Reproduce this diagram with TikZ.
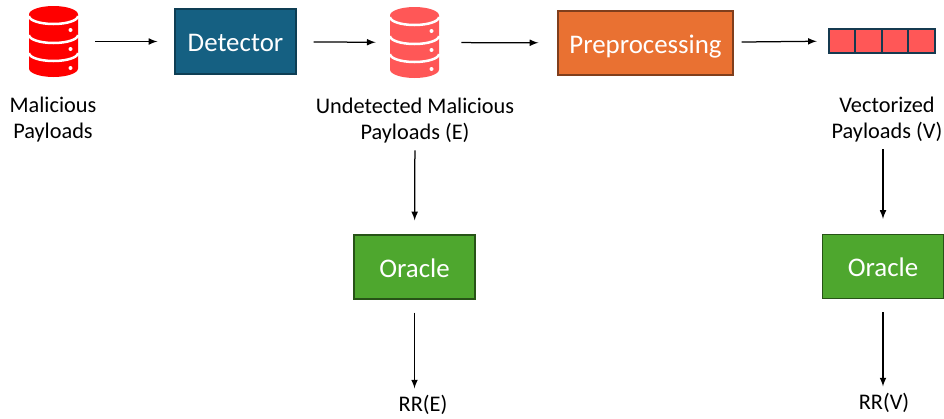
\documentclass[tikz,border=0pt]{standalone}
\usepackage{fontspec}
\setmainfont{Carlito}
\usepackage{tikz}

\definecolor{dbred}{HTML}{FF0000}
\definecolor{dblight}{HTML}{FF5757}
\definecolor{detblue}{HTML}{156082}
\definecolor{preorange}{HTML}{E97132}
\definecolor{oragreen}{HTML}{4EA72E}
\definecolor{celldark}{HTML}{153A50}

\tikzset{
	box/.style = {minimum height = 1.28cm, line width=0.25mm, text=white, font=\fontsize{15.3}{18}\selectfont, inner sep=0pt, text height=11.5pt, text depth=0pt},
	oracle/.style = {box, minimum width = 2.42cm, fill=oragreen, draw=oragreen!50!black},
	label/.style = {align=center, font=\fontsize{12.7}{14.8}\selectfont, inner sep=0pt},
	cell/.style = {minimum width = 0.53cm, minimum height = 0.48cm, inner sep=0pt, fill=dblight, draw=celldark, line width=0.4mm},
	dbnode/.style = {minimum width = 0.98cm, minimum height = 1.42cm, inner sep=0pt},
	dbicon/.pic = {
		\fill[#1] (-0.49,0.54) arc[start angle=180, end angle=0, x radius=0.49, y radius=0.17]
			-- (0.49,-0.54) arc[start angle=0, end angle=-180, x radius=0.49, y radius=0.17] -- cycle;
		\draw[white, line width=0.5mm] (-0.49,0.51) arc[start angle=180, end angle=360, x radius=0.49, y radius=0.16];
		\draw[white, line width=0.5mm] (-0.49,0.13) arc[start angle=180, end angle=360, x radius=0.49, y radius=0.16];
		\draw[white, line width=0.5mm] (-0.49,-0.23) arc[start angle=180, end angle=360, x radius=0.49, y radius=0.16];
		\fill[white] (0.34,0.23) circle (0.04);
		\fill[white] (0.34,-0.15) circle (0.04);
		\fill[white] (0.34,-0.53) circle (0.04);
	}
}

\begin{document}
\begin{tikzpicture}[>=latex]
	\useasboundingbox (0,0) rectangle (18.88,8.36);
	% top row
	\node[dbnode] (db1) at(1.07,7.53){};
	\pic at (db1) {dbicon=dbred};
	\node[box, minimum width = 2.42cm, minimum height = 1.30cm, fill=detblue, draw=detblue!65!black] (detector) at(4.71,7.53){Detector};
	\node[dbnode] (db2) at(8.29,7.51){};
	\pic at (db2) {dbicon=dblight};
	\node[box, minimum width = 3.5cm, fill=preorange, draw=preorange!55!black] (pre) at(12.91,7.5){Preprocessing};
	\node[cell] (cell1) at(16.84,7.54){};
	\node[cell] (cell2) at(17.37,7.54){};
	\node[cell] (cell3) at(17.90,7.54){};
	\node[cell] (cell4) at(18.43,7.54){};
	% labels
	\node[label] (lblmal) at(1.06,5.96){Malicious\\Payloads};
	\node[label] (lblund) at(8.3,5.95){Undetected Malicious\\Payloads (E)};
	\node[label] (lblvec) at(17.74,5.97){Vectorized\\Payloads (V)};
	% oracles
	\node[oracle] (oracle1) at(8.29,3.02){Oracle};
	\node[oracle] (oracle2) at(17.66,3.03){Oracle};
	\node[label] (rre) at(8.46,0.27){RR(E)};
	\node[label] (rrv) at(17.68,0.31){RR(V)};
	% arrows
	\draw[line width=0.25mm,->,shorten <=0.34cm,shorten >=0.34cm] (db1) -- (detector);
	\draw[line width=0.25mm,->,shorten <=0.34cm,shorten >=0.28cm] (detector) -- (db2);
	\draw[line width=0.25mm,->,shorten <=0.44cm,shorten >=0.38cm] (db2) -- (pre);
	\draw[line width=0.25mm,->,shorten <=0.16cm,shorten >=0.22cm] (pre) -- (cell1);
	\draw[line width=0.25mm,->,shorten <=0.14cm,shorten >=0.28cm] (lblund) -- (oracle1);
	\draw[line width=0.25mm,->,shorten <=0.14cm,shorten >=0.3cm] (lblvec.south -| oracle2.north) -- (oracle2.north);
	\draw[line width=0.25mm,->,shorten <=0.26cm,shorten >=0.12cm] (oracle1.south) -- (oracle1.south |- rre.north);
	\draw[line width=0.25mm,->,shorten <=0.26cm,shorten >=0.12cm] (oracle2.south) -- (oracle2.south |- rrv.north);
\end{tikzpicture}
\end{document}
